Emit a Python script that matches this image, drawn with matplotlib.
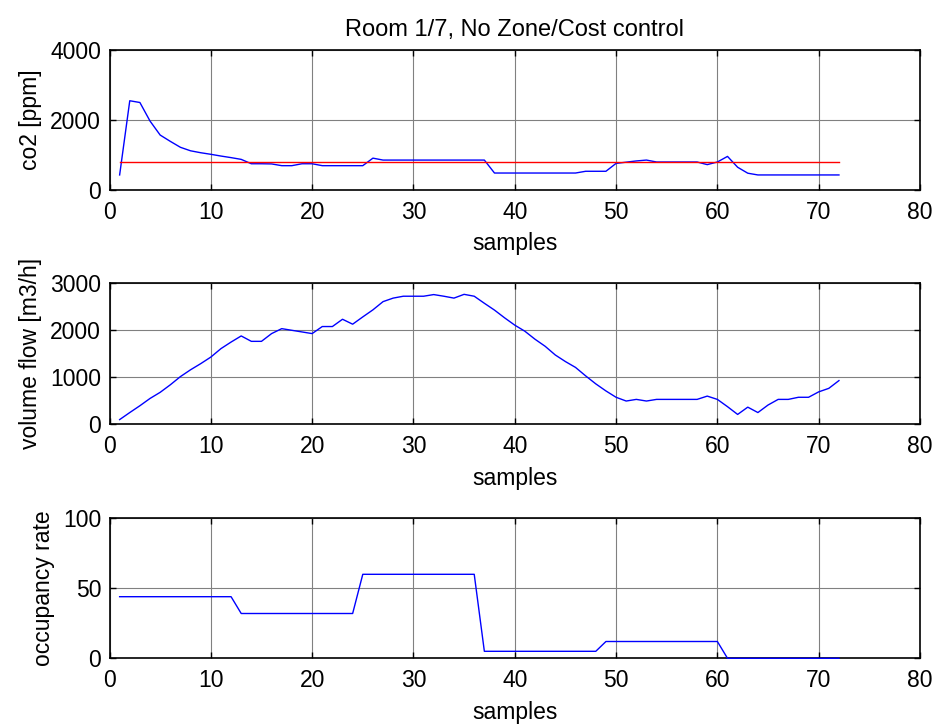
import numpy as np
import matplotlib.pyplot as plt

plt.rcParams['font.family'] = ['Liberation Sans', 'DejaVu Sans']
plt.rcParams['font.size'] = 16.5

samples = np.arange(1, 73)

# co2 concentration [ppm]
co2 = [430, 2550, 2500, 1970, 1570, 1390, 1220, 1120, 1065, 1020,
       970, 925, 875, 750, 750, 745, 695, 695, 750, 750,
       695, 695, 695, 695, 695, 910, 855, 855, 855, 855,
       855, 855, 855, 855, 855, 855, 855, 485, 485, 485,
       485, 485, 485, 485, 485, 485, 535, 535, 535, 760,
       795, 830, 855, 800, 800, 800, 800, 800, 725, 800,
       960, 650, 480, 430, 430, 430, 430, 430, 430, 430,
       430, 430]
co2_set = [800] * 72

# supply air volume flow [m3/h]
flow = [100, 250, 395, 550, 680, 840, 1015, 1160, 1290, 1430,
        1610, 1750, 1880, 1765, 1765, 1930, 2035, 2000, 1965, 1930,
        2080, 2080, 2235, 2130, 2285, 2435, 2610, 2685, 2725, 2725,
        2725, 2760, 2725, 2685, 2765, 2725, 2575, 2430, 2265, 2110,
        1980, 1810, 1660, 1475, 1335, 1210, 1030, 860, 710, 575,
        495, 530, 495, 530, 530, 530, 530, 530, 600, 530,
        375, 210, 365, 250, 410, 530, 530, 575, 575, 690,
        765, 930]

# occupancy [%]
occ = [44] * 12 + [32] * 12 + [60] * 12 + [5] * 12 + [12] * 12 + [0] * 12

W, H = 934, 724
fig = plt.figure(figsize=(W / 100, H / 100), dpi=100)

def box(top, bottom, left=109.5, right=920):
    return [left / W, 1 - bottom / H, (right - left) / W, (bottom - top) / H]

def style(ax, ymax, yticks):
    ax.set_xlim(0, 80)
    ax.set_ylim(0, ymax)
    ax.set_xticks(np.arange(0, 81, 10))
    ax.set_yticks(yticks)
    ax.grid(True, color='#808080', lw=0.8)
    ax.tick_params(direction='in', length=4, width=1, top=True, right=True,
                   labelsize=16.5)
    ax.tick_params(axis='y', pad=6)
    ax.tick_params(axis='x', pad=8)
    for s in ax.spines.values():
        s.set_linewidth(1.2)
    ax.set_xlabel('samples', labelpad=6)

ax1 = fig.add_axes(box(50, 190))
ax1.plot(samples, co2, color='b', lw=1.0, zorder=3)
ax1.plot(samples, co2_set, color='r', lw=1.0, zorder=3)
style(ax1, 4000, [0, 2000, 4000])
ax1.set_ylabel('co2 [ppm]', labelpad=6)
ax1.set_title('Room 1/7, No Zone/Cost control', fontsize=17, pad=10)

ax2 = fig.add_axes(box(283.3, 424.3))
ax2.plot(samples, flow, color='b', lw=1.0, zorder=3)
style(ax2, 3000, [0, 1000, 2000, 3000])
ax2.set_ylabel('volume flow [m3/h]', labelpad=6)

ax3 = fig.add_axes(box(518.3, 658.3))
ax3.plot(samples, occ, color='b', lw=1.0, zorder=3, clip_on=False)
style(ax3, 100, [0, 50, 100])
ax3.set_ylabel('occupancy rate', labelpad=6)

fig.savefig('out.png', dpi=100)
